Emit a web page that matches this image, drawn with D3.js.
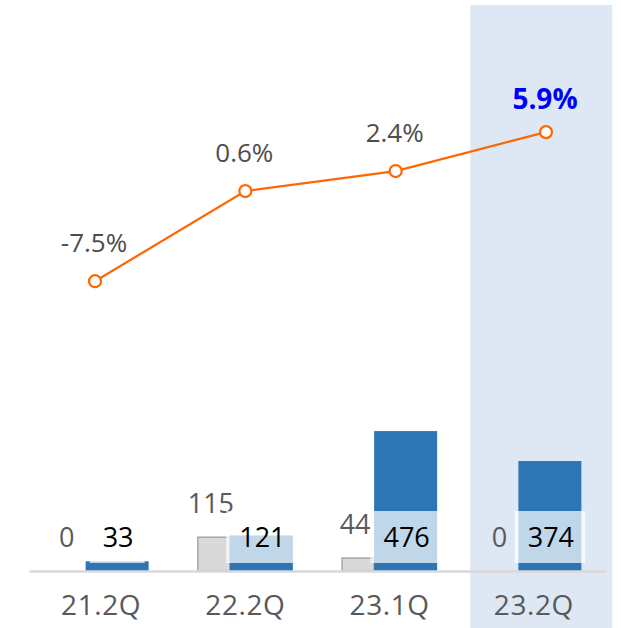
<!DOCTYPE html>
<html>
<head>
<meta charset="utf-8">
<script src="https://cdn.jsdelivr.net/npm/d3@7"></script>
<style>
  html, body { margin: 0; padding: 0; background: #ffffff; }
  svg { display: block; font-family: "Open Sans", "Noto Sans", sans-serif; }
</style>
</head>
<body>
<svg id="chart" width="621" height="628"></svg>
<script>
const categories = ["21.2Q", "22.2Q", "23.1Q", "23.2Q"];
const grayValues = [0, 115, 44, 0];
const blueValues = [33, 121, 476, 374];
const rateValues = [-7.5, 0.6, 2.4, 5.9];
const rateLabels = ["-7.5%", "0.6%", "2.4%", "5.9%"];
const highlightCategory = "23.2Q";

const svg = d3.select("#chart");

const xBand = d3.scaleBand().domain(categories).range([29, 606]).padding(0);
const xLine = d3.scalePoint().domain(categories).range([95, 546]).padding(0);
const yBar = d3.scaleLinear().domain([0, 500]).range([571, 424]);
const yRate = d3.scaleLinear().domain([-10, 10]).range([309, 86.5]);

const center = c => xBand(c) + xBand.bandwidth() / 2;

// highlight column
svg.append("rect")
  .attr("x", xBand(highlightCategory) + 8.5)
  .attr("y", 5)
  .attr("width", 142)
  .attr("height", 623)
  .attr("fill", "#dde8f4");

// gray bars
const grayW = 32, blueW = 63, offset = 15.5;
svg.append("g").selectAll("rect")
  .data(categories.map((c, i) => ({c, v: grayValues[i]})).filter(d => d.v > 0))
  .join("rect")
  .attr("x", d => center(d.c) - offset - grayW)
  .attr("y", d => yBar(d.v))
  .attr("width", grayW)
  .attr("height", d => yBar(0) - yBar(d.v))
  .attr("fill", "#d9d9d9")
  .attr("stroke", "#a6a6a6")
  .attr("stroke-width", 1.5);

// blue bars
svg.append("g").selectAll("rect")
  .data(categories.map((c, i) => ({c, v: blueValues[i]})))
  .join("rect")
  .attr("x", d => center(d.c) - offset)
  .attr("y", d => yBar(d.v))
  .attr("width", blueW)
  .attr("height", d => yBar(0) - yBar(d.v))
  .attr("fill", "#2e75b6");

// baseline axis
const xAxis = d3.axisBottom(xBand).tickSize(0).tickPadding(24);
const axisG = svg.append("g").attr("transform", `translate(0,${yBar(0)})`).call(xAxis);
axisG.select(".domain").attr("stroke", "#d9d9d9").attr("stroke-width", 2.5);
axisG.selectAll(".tick text")
  .attr("font-size", 28)
  .attr("letter-spacing", 0.6)
  .attr("fill", "#595959")
  .attr("font-family", "Open Sans, sans-serif")
  .attr("dy", "0.71em")
  .attr("y", 24);

// gray value labels
svg.append("g").selectAll("text")
  .data(categories.map((c, i) => ({c, v: grayValues[i]})))
  .join("text")
  .attr("x", d => center(d.c) - offset - grayW / 2 - 3)
  .attr("y", d => yBar(d.v) - 34)
  .attr("dy", "0.36em")
  .attr("text-anchor", "middle")
  .attr("font-size", 27)
  .attr("fill", "#595959")
  .text(d => d.v);

// blue value labels with translucent box
const blueLab = svg.append("g").selectAll("g")
  .data(categories.map((c, i) => ({c, v: blueValues[i]})))
  .join("g");
blueLab.append("rect").attr("class", "box");
blueLab.append("text")
  .attr("x", d => center(d.c) - offset + blueW / 2 + 1)
  .attr("y", yBar(0) - 34)
  .attr("dy", "0.36em")
  .attr("text-anchor", "middle")
  .attr("font-size", 27)
  .attr("fill", "#000000")
  .text(d => d.v);
blueLab.each(function(d) {
  const g = d3.select(this);
  const w = g.select("text").node().getComputedTextLength() + 24;
  const cx = center(d.c) - offset + blueW / 2;
  g.select("rect")
    .attr("x", cx - w / 2)
    .attr("y", yBar(0) - 60)
    .attr("width", w)
    .attr("height", 52)
    .attr("fill", "#ffffff")
    .attr("fill-opacity", 0.7);
});

// rate line
const lineData = categories.map((c, i) => ({c, v: rateValues[i], label: rateLabels[i]}));
svg.append("path")
  .datum(lineData)
  .attr("fill", "none")
  .attr("stroke", "#ff6600")
  .attr("stroke-width", 2.2)
  .attr("d", d3.line().x(d => xLine(d.c)).y(d => yRate(d.v)));

svg.append("g").selectAll("circle")
  .data(lineData)
  .join("circle")
  .attr("cx", d => xLine(d.c))
  .attr("cy", d => yRate(d.v))
  .attr("r", 6)
  .attr("fill", "#ffffff")
  .attr("stroke", "#ff6600")
  .attr("stroke-width", 2.2);

svg.append("g").selectAll("text")
  .data(lineData)
  .join("text")
  .attr("x", d => xLine(d.c) - 1)
  .attr("y", d => yRate(d.v) - (d.c === highlightCategory ? 33 : 38.5))
  .attr("dy", "0.36em")
  .attr("text-anchor", "middle")
  .attr("font-size", d => d.c === highlightCategory ? 28 : 26)
  .attr("font-weight", d => d.c === highlightCategory ? "bold" : "normal")
  .attr("fill", d => d.c === highlightCategory ? "#0000ff" : "#4d4d4d")
  .text(d => d.label);
</script>
</body>
</html>
